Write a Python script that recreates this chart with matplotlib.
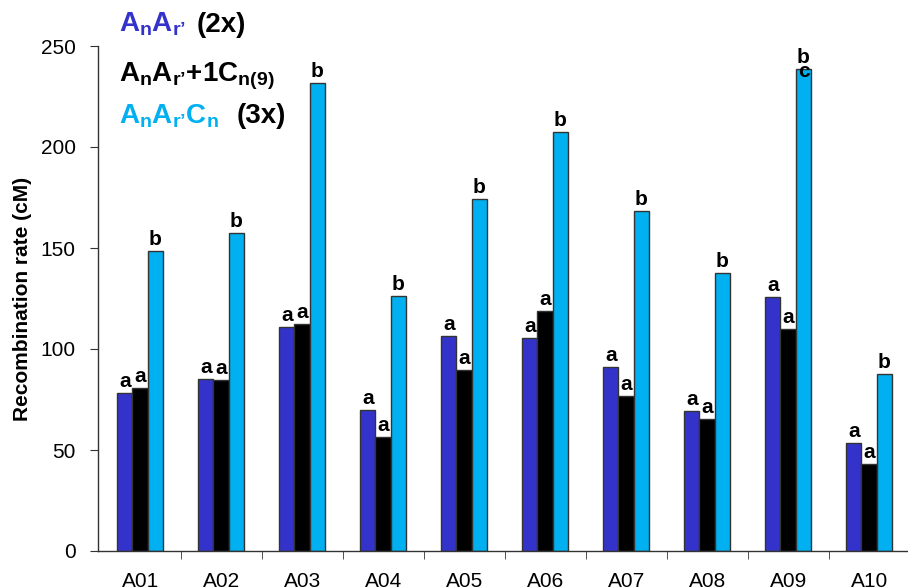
import matplotlib
matplotlib.use("Agg")
import matplotlib.pyplot as plt
import numpy as np

plt.rcParams['font.family'] = ['Liberation Sans', 'DejaVu Sans']
plt.rcParams['mathtext.fontset'] = 'custom'
plt.rcParams['mathtext.rm'] = 'Liberation Sans:bold'
plt.rcParams['mathtext.bf'] = 'Liberation Sans:bold'
plt.rcParams['mathtext.it'] = 'Liberation Sans:bold'

categories = ['A01', 'A02', 'A03', 'A04', 'A05', 'A06', 'A07', 'A08', 'A09', 'A10']
s_2x = [78, 85, 111, 69.8, 106.4, 105.4, 91, 69.3, 125.7, 53.5]
s_plus = [80.7, 84.6, 112.4, 56.4, 89.6, 118.8, 76.7, 65.3, 109.9, 43]
s_3x = [148.5, 157.4, 231.7, 126, 174.3, 207.4, 168.3, 137.6, 238.6, 87.6]
lab_2x = ['a'] * 10
lab_plus = ['a'] * 10
lab_3x = ['b'] * 10
yticks = [0, 50, 100, 150, 200, 250]

c_blue = '#3333CC'
c_black = '#000000'
c_cyan = '#00B0F0'

fig = plt.figure(figsize=(9.08, 5.87), dpi=100)
ax = fig.add_axes([98/908, 36/587, 1 - 98/908, 505/587])

x = np.arange(len(categories))
w = 0.19
series = [(s_2x, c_blue, lab_2x, -w), (s_plus, c_black, lab_plus, 0), (s_3x, c_cyan, lab_3x, w)]
for vals, col, labs, off in series:
    ax.bar(x + off, vals, width=w, color=col, edgecolor='#333333', linewidth=1.0, zorder=2)
    for xi, v, l in zip(x, vals, labs):
        ax.text(xi + off, v + 1, l, ha='center', va='bottom', fontsize=15,
                fontweight='bold', zorder=3)
# extra letter on A09 3x bar
ax.text(x[8] + w, s_3x[8] - 6, 'c', ha='center', va='bottom', fontsize=15,
        fontweight='bold', zorder=3)

ax.set_xlim(-0.52, 9.48)
ax.set_ylim(0, 250)
ax.set_yticks(yticks)
ax.set_xticks(x)
ax.set_xticklabels(categories)
ax.set_xticks(np.arange(0.5, 9.5, 1.0), minor=True)
ax.tick_params(axis='x', which='major', length=0, labelsize=15, pad=15)
ax.tick_params(axis='x', which='minor', length=6, direction='out', color='#333333')
ax.tick_params(axis='y', length=6, direction='out', labelsize=15, color='#333333', pad=10)
for s in ['top', 'right']:
    ax.spines[s].set_visible(False)
for s in ['left', 'bottom']:
    ax.spines[s].set_color('#333333')
    ax.spines[s].set_linewidth(1.0)
ax.set_ylabel('Recombination rate (cM)', fontsize=15, fontweight='bold', labelpad=6)

fs = 20
fig.text(119/908, 1 - 32/587, r'A$_\mathbf{n}$A$_\mathbf{r’}$', color=c_blue, fontsize=fs,
         fontweight='bold', va='baseline', ha='left')
fig.text(197/908, 1 - 32/587, '(2x)', color='black', fontsize=fs,
         fontweight='bold', va='baseline', ha='left')
fig.text(119/908, 1 - 82/587, r'A$_\mathbf{n}$A$_\mathbf{r’}$+1C$_\mathbf{n(9)}$', color='black',
         fontsize=fs, fontweight='bold', va='baseline', ha='left')
fig.text(119/908, 1 - 123/587, r'A$_\mathbf{n}$A$_\mathbf{r’}$C$_\mathbf{n}$', color=c_cyan,
         fontsize=fs, fontweight='bold', va='baseline', ha='left')
fig.text(237/908, 1 - 123/587, '(3x)', color='black', fontsize=fs,
         fontweight='bold', va='baseline', ha='left')

fig.savefig('out.png', dpi=100)
